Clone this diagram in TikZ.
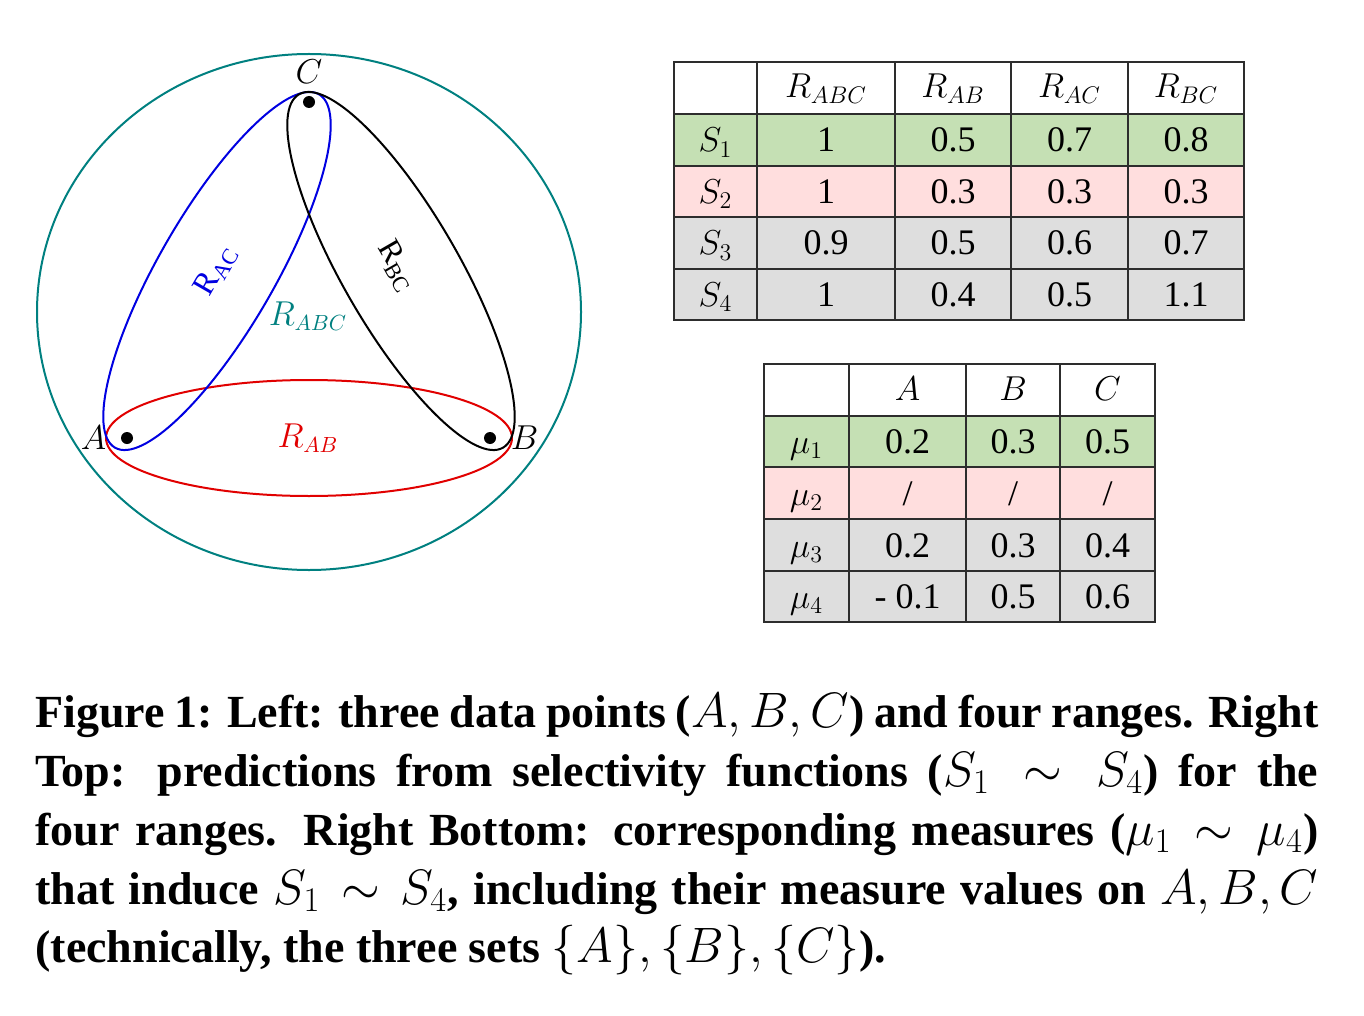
\documentclass[tikz,border=0pt]{standalone}
\usepackage{amsmath}
\usepackage{fontspec}
\setmainfont{Liberation Serif}
\usetikzlibrary{
  positioning,
  calc
}
\definecolor{abccolor}{RGB}{0, 128, 128}
\definecolor{accolor}{RGB}{0, 0, 225}
\definecolor{abcolor}{RGB}{225, 0, 0}
\definecolor{rowgreen}{RGB}{197, 224, 180}
\definecolor{rowpink}{RGB}{255, 222, 222}
\definecolor{rowgray}{RGB}{222, 222, 222}
\definecolor{gridcolor}{RGB}{45, 45, 45}
\tikzset{
rangeline/.style={
  line width=1pt
},
pointdot/.style={
  circle,
  fill=black,
  inner sep=0pt,
  minimum size=6pt
},
pointlabel/.style={
  font=\fontsize{17.5}{20}\selectfont,
  inner sep=0pt
},
rangelabel/.style={
  font=\fontsize{16}{18}\selectfont,
  inner sep=0pt
},
celltext/.style={
  font=\fontsize{18}{20}\selectfont,
  inner sep=0pt,
  text height=12pt,
  text depth=0pt
},
gridline/.style={
  draw=gridcolor,
  line width=0.9pt
},
captionline/.style={
  font=\bfseries\fontsize{23}{29.5}\selectfont,
  anchor=base west,
  inner sep=0pt
}
}

\begin{document}
\begin{tikzpicture}[x=0.5pt,y=-0.5pt]
\useasboundingbox (0,0) rectangle (1364,1016);

% left: three points and four ranges
\coordinate (cabc) at (309,312);
\coordinate (cab) at (309,438);
\coordinate (cac) at (217,271);
\coordinate (cbc) at (401,271);
\draw[rangeline, draw=abccolor] (cabc) ellipse [x radius=136pt, y radius=129pt];
\draw[rangeline, draw=abcolor] (cab) ellipse [x radius=101.5pt, y radius=29pt];
\draw[rangeline, draw=accolor, rotate around={60:(cac)}] (cac) ellipse [x radius=102pt, y radius=29pt];
\draw[rangeline, draw=black, rotate around={-60:(cbc)}] (cbc) ellipse [x radius=102pt, y radius=29pt];

\node[pointdot] (A) at (127,438) {};
\node[pointdot] (B) at (490,438) {};
\node[pointdot] (C) at (309,102) {};
\node[pointlabel, left=7pt of A] (labelA) {$A$};
\node[pointlabel, right=7pt of B] (labelB) {$B$};
\node[pointlabel, above=6pt of C] (labelC) {$C$};

\node[rangelabel, text=abccolor] (nameabc) at (308,316) {$R_{ABC}$};
\node[rangelabel, text=abcolor] (nameab) at (308,438) {$R_{AB}$};
\node[rangelabel, text=accolor, rotate=60] (nameac) at (216,270) {$\mathrm{R}_{\mathrm{AC}}$};
\node[rangelabel, rotate=-60] (namebc) at (397,266) {$\mathrm{R}_{\mathrm{BC}}$};

% right top: selectivity predictions
\foreach \ya/\yb/\c in {114/166/rowgreen, 166/217/rowpink, 217/269/rowgray, 269/320/rowgray}
  \fill[\c] (674,\ya) rectangle (1244,\yb);
\draw[gridline] (674,62) rectangle (1244,320);
\foreach \x in {757,895,1011,1128}
  \draw[gridline] (\x,62) -- (\x,320);
\foreach \y in {114,166,217,269}
  \draw[gridline] (674,\y) -- (1244,\y);

\foreach \x/\t [count=\i] in {826/$R_{ABC}$, 953/$R_{AB}$, 1069.5/$R_{AC}$, 1186/$R_{BC}$}
  \node[celltext] (shead\i) at (\x,86) {\t};
\foreach \y/\s/\a/\b/\c/\d [count=\i] in {
    140/$S_1$/1/0.5/0.7/0.8,
    191.5/$S_2$/1/0.3/0.3/0.3,
    243/$S_3$/0.9/0.5/0.6/0.7,
    294.5/$S_4$/1/0.4/0.5/1.1}{
  \node[celltext] (srow\i) at (715.5,\y) {\s};
  \node[celltext] (sval\i a) at (826,\y) {\a};
  \node[celltext] (sval\i b) at (953,\y) {\b};
  \node[celltext] (sval\i c) at (1069.5,\y) {\c};
  \node[celltext] (sval\i d) at (1186,\y) {\d};
}

% right bottom: measures on the points
\foreach \ya/\yb/\c in {416/467/rowgreen, 467/519/rowpink, 519/571/rowgray, 571/622/rowgray}
  \fill[\c] (764,\ya) rectangle (1155,\yb);
\draw[gridline] (764,364) rectangle (1155,622);
\foreach \x in {849,966,1060}
  \draw[gridline] (\x,364) -- (\x,622);
\foreach \y in {416,467,519,571}
  \draw[gridline] (764,\y) -- (1155,\y);

\foreach \x/\t [count=\i] in {907.5/$A$, 1013/$B$, 1107.5/$C$}
  \node[celltext] (mhead\i) at (\x,388) {\t};
\foreach \y/\m/\a/\b/\c [count=\i] in {
    441.5/$\mu_1$/0.2/0.3/0.5,
    493/$\mu_2$///,
    545/$\mu_3$/0.2/0.3/0.4,
    596.5/$\mu_4$/-~0.1/0.5/0.6}{
  \node[celltext] (mrow\i) at (806.5,\y) {\m};
  \node[celltext] (mval\i a) at (907.5,\y) {\a};
  \node[celltext] (mval\i b) at (1013,\y) {\b};
  \node[celltext] (mval\i c) at (1107.5,\y) {\c};
}
\foreach \x [count=\i] in {907.5,1013,1107.5}
  \node[celltext] (mslash\i) at (\x,493) {/};

% caption
\node[captionline] (cap1) at (35,727) {\makebox[641.5pt][s]{Figure 1: Left: three data points ($A, B, C$) and four ranges. Right}};
\node[captionline] (cap2) at (35,786) {\makebox[641.5pt][s]{Top: predictions from selectivity functions ($S_1 \sim S_4$) for the}};
\node[captionline] (cap3) at (35,845) {\makebox[641.5pt][s]{four ranges. Right Bottom: corresponding measures ($\mu_1 \sim \mu_4$)}};
\node[captionline] (cap4) at (35,904) {\makebox[641.5pt][s]{that induce $S_1 \sim S_4$, including their measure values on $A, B, C$}};
\node[captionline] (cap5) at (35,962) {(technically, the three sets $\{A\}, \{B\}, \{C\}$).};
\end{tikzpicture}
\end{document}
